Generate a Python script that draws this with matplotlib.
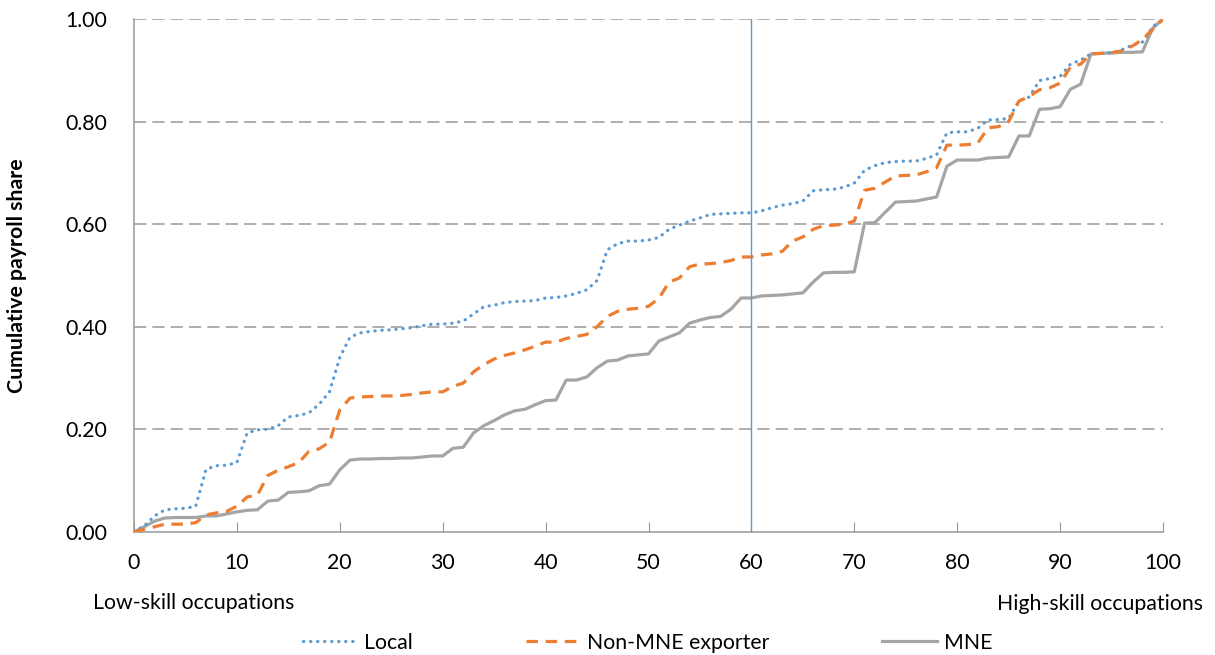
import numpy as np
import matplotlib
matplotlib.use("Agg")
import matplotlib.pyplot as plt

plt.rcParams['font.family'] = ['Lato', 'DejaVu Sans']

# occupation percentile (low -> high skill)
pct = list(range(0, 101))

local = [
    0.000, 0.012, 0.031, 0.043, 0.045, 0.046, 0.050, 0.122, 0.129, 0.130,
    0.135, 0.193, 0.199, 0.200, 0.207, 0.224, 0.227, 0.232, 0.249, 0.273,
    0.340, 0.380, 0.388, 0.391, 0.393, 0.394, 0.396, 0.398, 0.402, 0.405,
    0.405, 0.407, 0.411, 0.425, 0.439, 0.442, 0.447, 0.449, 0.450, 0.451,
    0.456, 0.457, 0.460, 0.465, 0.472, 0.490, 0.550, 0.562, 0.567, 0.567,
    0.569, 0.574, 0.590, 0.598, 0.606, 0.612, 0.619, 0.620, 0.621, 0.622,
    0.622, 0.626, 0.632, 0.637, 0.640, 0.645, 0.665, 0.667, 0.668, 0.672,
    0.680, 0.705, 0.714, 0.720, 0.722, 0.723, 0.723, 0.728, 0.735, 0.778,
    0.780, 0.780, 0.787, 0.803, 0.804, 0.806, 0.840, 0.848, 0.880, 0.884,
    0.888, 0.912, 0.920, 0.932, 0.933, 0.934, 0.940, 0.949, 0.955, 0.985,
    1.000,
]

non_mne = [
    0.000, 0.005, 0.010, 0.015, 0.015, 0.015, 0.018, 0.033, 0.037, 0.040,
    0.050, 0.068, 0.072, 0.110, 0.120, 0.127, 0.135, 0.157, 0.162, 0.175,
    0.238, 0.261, 0.263, 0.264, 0.265, 0.265, 0.266, 0.268, 0.271, 0.273,
    0.273, 0.284, 0.290, 0.312, 0.326, 0.337, 0.344, 0.349, 0.355, 0.362,
    0.370, 0.370, 0.377, 0.381, 0.385, 0.400, 0.420, 0.430, 0.434, 0.436,
    0.440, 0.455, 0.487, 0.495, 0.517, 0.522, 0.523, 0.525, 0.529, 0.536,
    0.536, 0.540, 0.542, 0.547, 0.567, 0.575, 0.590, 0.597, 0.598, 0.600,
    0.606, 0.666, 0.670, 0.682, 0.694, 0.695, 0.696, 0.702, 0.710, 0.754,
    0.754, 0.755, 0.758, 0.788, 0.790, 0.800, 0.840, 0.849, 0.862, 0.866,
    0.875, 0.906, 0.912, 0.932, 0.933, 0.934, 0.938, 0.947, 0.960, 0.980,
    1.000,
]

mne = [
    0.000, 0.010, 0.021, 0.027, 0.028, 0.028, 0.028, 0.031, 0.031, 0.035,
    0.039, 0.042, 0.043, 0.060, 0.062, 0.077, 0.078, 0.080, 0.090, 0.093,
    0.121, 0.140, 0.142, 0.142, 0.143, 0.143, 0.144, 0.144, 0.146, 0.148,
    0.148, 0.163, 0.165, 0.193, 0.207, 0.217, 0.228, 0.236, 0.239, 0.248,
    0.256, 0.257, 0.296, 0.296, 0.302, 0.320, 0.333, 0.335, 0.343, 0.345,
    0.347, 0.372, 0.380, 0.388, 0.407, 0.413, 0.418, 0.420, 0.434, 0.456,
    0.456, 0.460, 0.461, 0.462, 0.464, 0.466, 0.487, 0.505, 0.506, 0.506,
    0.507, 0.602, 0.603, 0.623, 0.643, 0.644, 0.645, 0.649, 0.653, 0.713,
    0.725, 0.725, 0.725, 0.729, 0.730, 0.731, 0.772, 0.772, 0.824, 0.825,
    0.829, 0.863, 0.873, 0.932, 0.933, 0.934, 0.935, 0.935, 0.936, 0.982,
    1.000,
]

cutoff = 60
y_ticks = [0.0, 0.2, 0.4, 0.6, 0.8, 1.0]
x_ticks = list(range(0, 101, 10))

fs = 15.3

fig = plt.figure(figsize=(12.15, 6.55), dpi=100)
ax = fig.add_axes([0.1103, 0.188, 0.8469, 0.783])

# gridlines
for yv in y_ticks[1:]:
    ax.axhline(yv, color='#999999', linewidth=1.1, linestyle=(0, (8, 4)), zorder=1)

ax.plot(pct, local, color='#5B9BD5', linewidth=2.3, linestyle=(0, (0.1, 2.1)),
        dash_capstyle='round', label='Local', zorder=3)
ax.plot(pct, non_mne, color='#ED7D31', linewidth=2.3, linestyle=(0, (3.6, 2.4)),
        label='Non-MNE exporter', zorder=3)
ax.plot(pct, mne, color='#A5A5A5', linewidth=2.3, label='MNE', zorder=2)

ax.plot([cutoff, cutoff], [0, 1], color='#5B9BD5', linewidth=1.0, zorder=4)

ax.set_xlim(0, 100)
ax.set_ylim(0, 1)
ax.set_xticks(x_ticks)
ax.set_yticks(y_ticks)
ax.set_yticklabels([f'{v:.2f}' for v in y_ticks])
ax.tick_params(axis='x', direction='in', length=7, color='#999999', labelsize=fs, pad=15)
ax.tick_params(axis='y', length=0, labelsize=fs, pad=19)

for s in ['top', 'right']:
    ax.spines[s].set_visible(False)
for s in ['left', 'bottom']:
    ax.spines[s].set_color('#999999')
    ax.spines[s].set_linewidth(1.1)

ax.set_ylabel('Cumulative payroll share', fontsize=fs, fontweight='bold')
ax.yaxis.set_label_coords(-0.104, 0.5)

fig.text(93 / 1215, 1 - 603 / 655, 'Low-skill occupations', fontsize=fs, va='center', ha='left')
fig.text(1203 / 1215, 1 - 604 / 655, 'High-skill occupations', fontsize=fs, va='center', ha='right')

ax.legend(loc='center', bbox_to_anchor=(0.499, (532 - 643) / 513), ncol=3,
          frameon=False, fontsize=fs, handlelength=2.6, columnspacing=5.3, handletextpad=0.3)

fig.savefig('out.png', dpi=100)
